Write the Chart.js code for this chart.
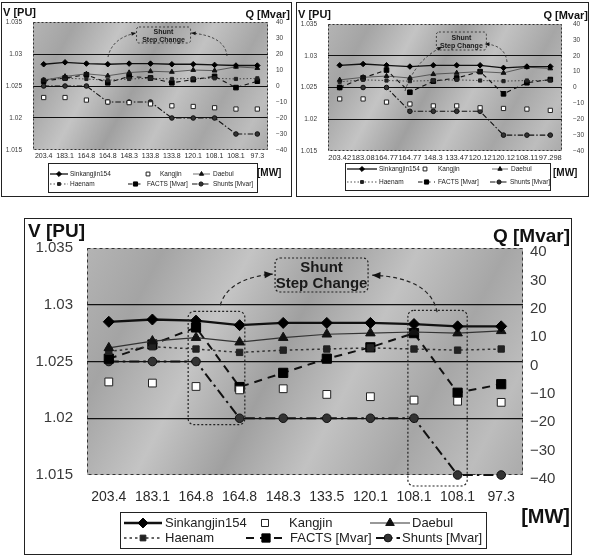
<!DOCTYPE html>
<html><head><meta charset="utf-8">
<script src="https://cdn.jsdelivr.net/npm/chart.js@4.4.1/dist/chart.umd.min.js"></script>
<style>
html,body{margin:0;padding:0;background:#fff;}
body{width:589px;height:558px;position:relative;overflow:hidden;}
canvas{position:absolute;display:block;}
</style></head><body>
<canvas id="cA" width="291" height="195" style="left:1px;top:2px"></canvas>
<canvas id="cB" width="293" height="195" style="left:296px;top:2px"></canvas>
<canvas id="cC" width="548" height="337" style="left:24px;top:218px"></canvas>
<script>
// ---------- data ----------
const seriesNames = ['Sinkangjin154','Kangjin','Daebul','Haenam','FACTS [Mvar]','Shunts [Mvar]'];
const vRange = [1.015, 1.035];
const vStep = 0.005;
const qRange = [-40, 40];
const qStep = 10;

// top-left chart
const catsA   = ['203.4','183.1','164.8','164.8','148.3','133.8','133.8','120.1','108.1','108.1','97.3'];
const sinkA   = [1.0284,1.0287,1.0285,1.0284,1.0285,1.0285,1.0284,1.0284,1.0283,1.0282,1.0282];
const kangA   = [1.0232,1.0232,1.0228,1.0225,1.0224,1.0222,1.0219,1.0218,1.0216,1.0214,1.0214];
const daebulA = [1.0259,1.0265,1.0269,1.0266,1.0271,1.0273,1.0272,1.0275,1.0274,1.0280,1.0278];
const haenamA = [1.0260,1.0262,1.0261,1.0259,1.0261,1.0262,1.0261,1.0262,1.0262,1.0261,1.0262];
const factsA  = [3,5,7,2,6,5,2,4,6,-1,3];
const shuntsA = [0,0,0,-10,-10,-10,-20,-20,-20,-30,-30];

// top-right chart
const catsB   = ['203.42','183.08','164.77','164.77','148.3','133.47','120.12','120.12','108.11','97.298'];
const sinkB   = [1.0285,1.0287,1.0285,1.0283,1.0285,1.0285,1.0285,1.0281,1.0283,1.0283];
const kangB   = [1.0232,1.0232,1.0227,1.0224,1.0221,1.0221,1.0218,1.0217,1.0216,1.0214];
const daebulB = [1.0262,1.0266,1.0268,1.0265,1.0271,1.0273,1.0275,1.0273,1.0282,1.0280];
const haenamB = [1.0259,1.0262,1.0261,1.0260,1.0261,1.0262,1.0261,1.0260,1.0261,1.0261];
const factsB  = [0,6,11,-3,4,6,10,-4,3,5];
const shuntsB = [0,0,0,-15,-15,-15,-15,-30,-30,-30];

// bottom (large) chart
const catsC   = ['203.4','183.1','164.8','164.8','148.3','133.5','120.1','108.1','108.1','97.3'];
const sinkC   = [1.0285,1.0287,1.0286,1.0282,1.0284,1.0284,1.0284,1.0283,1.0281,1.0281];
const kangC   = [1.0232,1.0231,1.0228,1.0225,1.0226,1.0221,1.0219,1.0216,1.0215,1.0214];
const daebulC = [1.0262,1.0268,1.0271,1.0267,1.0271,1.0274,1.0275,1.0276,1.0275,1.0277];
const haenamC = [1.0259,1.0263,1.0261,1.0258,1.0260,1.0261,1.0262,1.0261,1.0260,1.0261];
const factsC  = [1,6,12,-9,-4,1,5,10,-11,-8];
const shuntsC = [0,0,0,-20,-20,-20,-20,-20,-40,-40];

// ---------- layout / style ----------
const FONT = '"Liberation Sans", Arial, Helvetica, sans-serif';
const GEO = {
  cA: {W:291,H:195, L:32,R:267,T:20,B:148, tick:6.5, xtick:7, padL:11, padR:8, padX:2, qOff:0, s:0.5, grid:1,
       titleFont:11, titleV:[2,11], titleQ:[289,13], mw:[256,171,10],
       legBox:[47,161,256,190], rows:[172,182], legFont:6.5,
       items:[[49,67,69],[147,147,159],[192,209,212],[49,67,69],[127,142,146],[191,209,212]],
       ann:{text:{i:5.61,v:1.03422,w:54,h:16,font:7,l1:5,l2:13},
            arrows:[[3.01,1.02953,3.2,1.0325,4.32,1.03328],[8.58,1.02969,8.49,1.03281,6.9,1.03328]], rects:[]}},
  cB: {W:293,H:195, L:32,R:266,T:22,B:149, tick:6.5, xtick:7.5, padL:11, padR:11, padX:2, qOff:0, s:0.5, grid:1,
       titleFont:11, titleV:[2,13], titleQ:[292,14], mw:[257,171,10],
       legBox:[49,161,254,188], rows:[167,180], legFont:6.5,
       items:[[51,81,83],[129,129,142],[196,212,215],[51,81,83],[122,139,142],[194,212,214]],
       ann:{text:{i:5.2,v:1.03374,w:50,h:18,font:7,l1:6,l2:14},
            arrows:[[2.79,1.02445,3.22,1.02933,4.37,1.03138],[7.15,1.02902,7.07,1.0317,6.2,1.03185]], rects:[]}},
  cC: {W:548,H:337, L:63,R:499,T:30,B:257, tick:15, xtick:14, padL:14, padR:7, padX:14, qOff:4, s:1, grid:1.3,
       titleFont:19, titleV:[4,14], titleQ:[546,19], mw:[546,299,20],
       legBox:[96,294,462,330], rows:[305,320], legFont:13,
       items:[[100,138,141],[241,241,265],[346,386,388],[100,138,141],[222,262,266],[352,376,378]],
       ann:{text:{i:4.88,v:1.03412,w:93,h:34,font:15,l1:10,l2:26},
            arrows:[[2.555,1.02996,2.74,1.03235,3.76,1.0327],[7.53,1.02934,7.37,1.0324,6.04,1.03261]],
            rects:[[1.82,3.12,1.02942,1.01943],[6.86,8.22,1.02951,1.01403]]}}
};

function fmtV(v){ return String(parseFloat(Number(v).toFixed(3))); }
function fmtQ(v){ const r = Math.round(v); return r < 0 ? '\u2212' + (-r) : String(r); }

function marker(ctx, style, x, y, r, fill, stroke, lw){
  ctx.save(); ctx.beginPath(); ctx.setLineDash([]);
  if (style === 'rectRot'){ ctx.moveTo(x-r,y); ctx.lineTo(x,y-r); ctx.lineTo(x+r,y); ctx.lineTo(x,y+r); ctx.closePath(); }
  else if (style === 'rect'){ const s = r*Math.SQRT1_2; ctx.rect(x-s,y-s,2*s,2*s); }
  else if (style === 'triangle'){
    let a = 0; ctx.moveTo(x+Math.sin(a)*r, y-Math.cos(a)*r);
    a += 2*Math.PI/3; ctx.lineTo(x+Math.sin(a)*r, y-Math.cos(a)*r);
    a += 2*Math.PI/3; ctx.lineTo(x+Math.sin(a)*r, y-Math.cos(a)*r); ctx.closePath(); }
  else { ctx.arc(x,y,r,0,Math.PI*2); }
  ctx.fillStyle = fill; ctx.fill();
  ctx.lineWidth = lw; ctx.strokeStyle = stroke; ctx.stroke();
  ctx.restore();
}

const decoPlugin = {
  id: 'deco',
  beforeDraw(chart){
    const g = GEO[chart.canvas.id]; const ctx = chart.ctx; const a = chart.chartArea;
    ctx.save();
    ctx.fillStyle = '#fff'; ctx.fillRect(0,0,chart.width,chart.height);
    const gr = ctx.createLinearGradient(a.left, a.top, a.right, a.bottom);
    [[0,'#b4b4b4'],[0.14,'#a4a4a4'],[0.3,'#c4c4c4'],[0.45,'#a0a0a0'],[0.6,'#c2c2c2'],[0.76,'#a6a6a6'],[0.9,'#bdbdbd'],[1,'#aaaaaa']]
      .forEach(s => gr.addColorStop(s[0], s[1]));
    ctx.fillStyle = gr; ctx.fillRect(a.left, a.top, a.right-a.left, a.bottom-a.top);
    ctx.restore();
  },
  beforeDatasetsDraw(chart){
    const g = GEO[chart.canvas.id]; const ctx = chart.ctx; const a = chart.chartArea;
    ctx.save(); ctx.strokeStyle = '#333'; ctx.lineWidth = 1; ctx.setLineDash([2*g.s+1, 2*g.s+1]);
    ctx.strokeRect(a.left+0.5, a.top+0.5, a.right-a.left-1, a.bottom-a.top-1);
    ctx.restore();
  },
  afterDatasetsDraw(chart){
    const g = GEO[chart.canvas.id]; const ctx = chart.ctx;
    const xs = chart.scales.x, ys = chart.scales.yV;
    const px = i => xs.getPixelForValue(i), py = v => ys.getPixelForValue(v);
    const an = g.ann;
    ctx.save();
    ctx.strokeStyle = '#222'; ctx.lineWidth = g.s > 0.7 ? 1.2 : 0.8;
    // dotted rounded rects
    an.rects.forEach(r => {
      const x1 = px(r[0]), x2 = px(r[1]), y1 = py(r[2]), y2 = py(r[3]);
      ctx.setLineDash([2,2]); ctx.beginPath();
      ctx.roundRect(x1, y1, x2-x1, y2-y1, 6*g.s); ctx.stroke();
    });
    // dashed curved arrows
    an.arrows.forEach(r => {
      const x0 = px(r[0]), y0 = py(r[1]), cx = px(r[2]), cy = py(r[3]), x1 = px(r[4]), y1 = py(r[5]);
      ctx.setLineDash([3*g.s+1, 2*g.s+1]); ctx.beginPath(); ctx.moveTo(x0,y0); ctx.quadraticCurveTo(cx,cy,x1,y1); ctx.stroke();
      const ang = Math.atan2(y1-cy, x1-cx), hl = 8*g.s+1;
      ctx.setLineDash([]); ctx.beginPath();
      ctx.moveTo(x1,y1); ctx.lineTo(x1-hl*Math.cos(ang-0.4), y1-hl*Math.sin(ang-0.4));
      ctx.lineTo(x1-hl*Math.cos(ang+0.4), y1-hl*Math.sin(ang+0.4)); ctx.closePath();
      ctx.fillStyle = '#111'; ctx.fill();
    });
    // text box
    const t = an.text; const cx = px(t.i), top = py(t.v);
    ctx.setLineDash([2,2]); ctx.beginPath(); ctx.roundRect(cx - t.w/2, top, t.w, t.h, 5*g.s); ctx.stroke();
    ctx.fillStyle = '#1a1a1a'; ctx.font = 'bold ' + t.font + 'px ' + FONT;
    ctx.textAlign = 'center'; ctx.textBaseline = 'middle';
    ctx.fillText('Shunt', cx, top + t.l1);
    ctx.fillText('Step Change', cx, top + t.l2);
    ctx.restore();
  },
  afterDraw(chart){
    const g = GEO[chart.canvas.id]; const ctx = chart.ctx;
    ctx.save();
    // titles
    ctx.fillStyle = '#111'; ctx.font = 'bold ' + g.titleFont + 'px ' + FONT; ctx.textBaseline = 'middle';
    ctx.textAlign = 'left'; ctx.fillText('V [PU]', g.titleV[0], g.titleV[1]);
    ctx.textAlign = 'right'; ctx.fillText('Q [Mvar]', g.titleQ[0], g.titleQ[1]);
    ctx.font = 'bold ' + g.mw[2] + 'px ' + FONT;
    if (g.s > 0.7) { ctx.textAlign = 'right'; } else { ctx.textAlign = 'left'; }
    ctx.fillText('[MW]', g.mw[0], g.mw[1]);
    // legend
    const b = g.legBox;
    ctx.fillStyle = '#fff'; ctx.fillRect(b[0], b[1], b[2]-b[0], b[3]-b[1]);
    ctx.strokeStyle = '#222'; ctx.lineWidth = 1; ctx.setLineDash([]);
    ctx.strokeRect(b[0]+0.5, b[1]+0.5, b[2]-b[0], b[3]-b[1]);
    ctx.font = g.legFont + 'px ' + FONT; ctx.textAlign = 'left'; ctx.textBaseline = 'middle';
    chart.data.datasets.forEach((ds, k) => {
      const it = g.items[k]; const y = g.rows[k < 3 ? 0 : 1];
      if (ds.showLine !== false) {
        ctx.save(); ctx.strokeStyle = ds.borderColor; ctx.lineWidth = ds.borderWidth;
        ctx.setLineDash(ds.borderDash || []); ctx.beginPath(); ctx.moveTo(it[0], y); ctx.lineTo(it[1], y); ctx.stroke(); ctx.restore();
      }
      marker(ctx, ds.pointStyle, (it[0]+it[1])/2, y, ds.pointRadius*0.9, ds.pointBackgroundColor, ds.pointBorderColor, ds.pointBorderWidth);
      ctx.fillStyle = '#222'; ctx.fillText(ds.label, it[2], y);
    });
    // outer frame
    ctx.strokeStyle = '#222'; ctx.lineWidth = 1;
    ctx.strokeRect(0.5, 0.5, chart.width-1, chart.height-1);
    ctx.restore();
  }
};

function build(id, cats, sink, kang, daebul, haenam, facts, shunts){
  const g = GEO[id]; const s = g.s;
  const datasets = [
    {label:seriesNames[0], data:sink, yAxisID:'yV', borderColor:'#111', borderWidth:2*s+0.3,
     pointStyle:'rectRot', pointRadius:5.5*s, pointBackgroundColor:'#000', pointBorderColor:'#000', pointBorderWidth:1},
    {label:seriesNames[1], data:kang, yAxisID:'yV', showLine:false, borderColor:'#222', borderWidth:1,
     pointStyle:'rect', pointRadius:5*s+0.5, pointBackgroundColor:'#fff', pointBorderColor:'#222', pointBorderWidth:1},
    {label:seriesNames[2], data:daebul, yAxisID:'yV', borderColor:'#333', borderWidth:1*s+0.2,
     pointStyle:'triangle', pointRadius:5.5*s, pointBackgroundColor:'#111', pointBorderColor:'#111', pointBorderWidth:1},
    {label:seriesNames[3], data:haenam, yAxisID:'yV', borderColor:'#333', borderWidth:1.3*s+0.2, borderDash:[2*s+0.5, 2*s+1],
     pointStyle:'rect', pointRadius:4.5*s, pointBackgroundColor:'#222', pointBorderColor:'#222', pointBorderWidth:1},
    {label:seriesNames[4], data:facts, yAxisID:'yQ', borderColor:'#111', borderWidth:1.8*s+0.2, borderDash:[7*s+1, 5*s+1],
     pointStyle:'rect', pointRadius:6.5*s, pointBackgroundColor:'#000', pointBorderColor:'#000', pointBorderWidth:1},
    {label:seriesNames[5], data:shunts, yAxisID:'yQ', borderColor:'#111', borderWidth:1.8*s+0.2, borderDash:[9*s+1, 4*s, 2*s+0.5, 4*s],
     pointStyle:'circle', pointRadius:4*s+0.3, pointBackgroundColor:'#333', pointBorderColor:'#111', pointBorderWidth:1}
  ];
  datasets.forEach(d => { d.tension = 0; d.fill = false; d.clip = false; d.pointHoverRadius = d.pointRadius; });
  const tickFont = {family:FONT, size:g.tick};
  return new Chart(document.getElementById(id), {
    type:'line',
    data:{labels:cats, datasets},
    options:{
      responsive:false, animation:false, devicePixelRatio:1,
      layout:{padding:{top:g.T, left:0, right:0, bottom:0}},
      plugins:{legend:{display:false}, tooltip:{enabled:false}, title:{display:false}},
      scales:{
        x:{type:'category', offset:true,
           grid:{display:false, drawTicks:false}, border:{display:false},
           ticks:{autoSkip:false, maxRotation:0, minRotation:0, padding:g.padX, color:'#2a2a2a', font:{family:FONT, size:g.xtick}},
           afterFit(sc){ sc.height = g.H - g.B; }},
        yV:{type:'linear', position:'left', min:vRange[0], max:vRange[1],
           ticks:{stepSize:vStep, padding:g.padL, color:'#3a3a3a', font:tickFont, callback:v => fmtV(v)},
           grid:{drawTicks:false, lineWidth:g.grid,
                 color:c => (Math.abs(c.tick.value - vRange[0]) < 1e-6 || Math.abs(c.tick.value - vRange[1]) < 1e-6) ? 'rgba(0,0,0,0)' : '#111'},
           border:{display:false},
           afterFit(sc){ sc.width = g.L; }},
        yQ:{type:'linear', position:'right', min:qRange[0], max:qRange[1],
           ticks:{stepSize:qStep, padding:g.padR, labelOffset:g.qOff, color:'#3a3a3a', font:tickFont, callback:v => fmtQ(v)},
           grid:{display:false, drawTicks:false}, border:{display:false},
           afterFit(sc){ sc.width = g.W - g.R; }}
      }
    },
    plugins:[decoPlugin]
  });
}

build('cA', catsA, sinkA, kangA, daebulA, haenamA, factsA, shuntsA);
build('cB', catsB, sinkB, kangB, daebulB, haenamB, factsB, shuntsB);
build('cC', catsC, sinkC, kangC, daebulC, haenamC, factsC, shuntsC);
</script>
</body></html>
